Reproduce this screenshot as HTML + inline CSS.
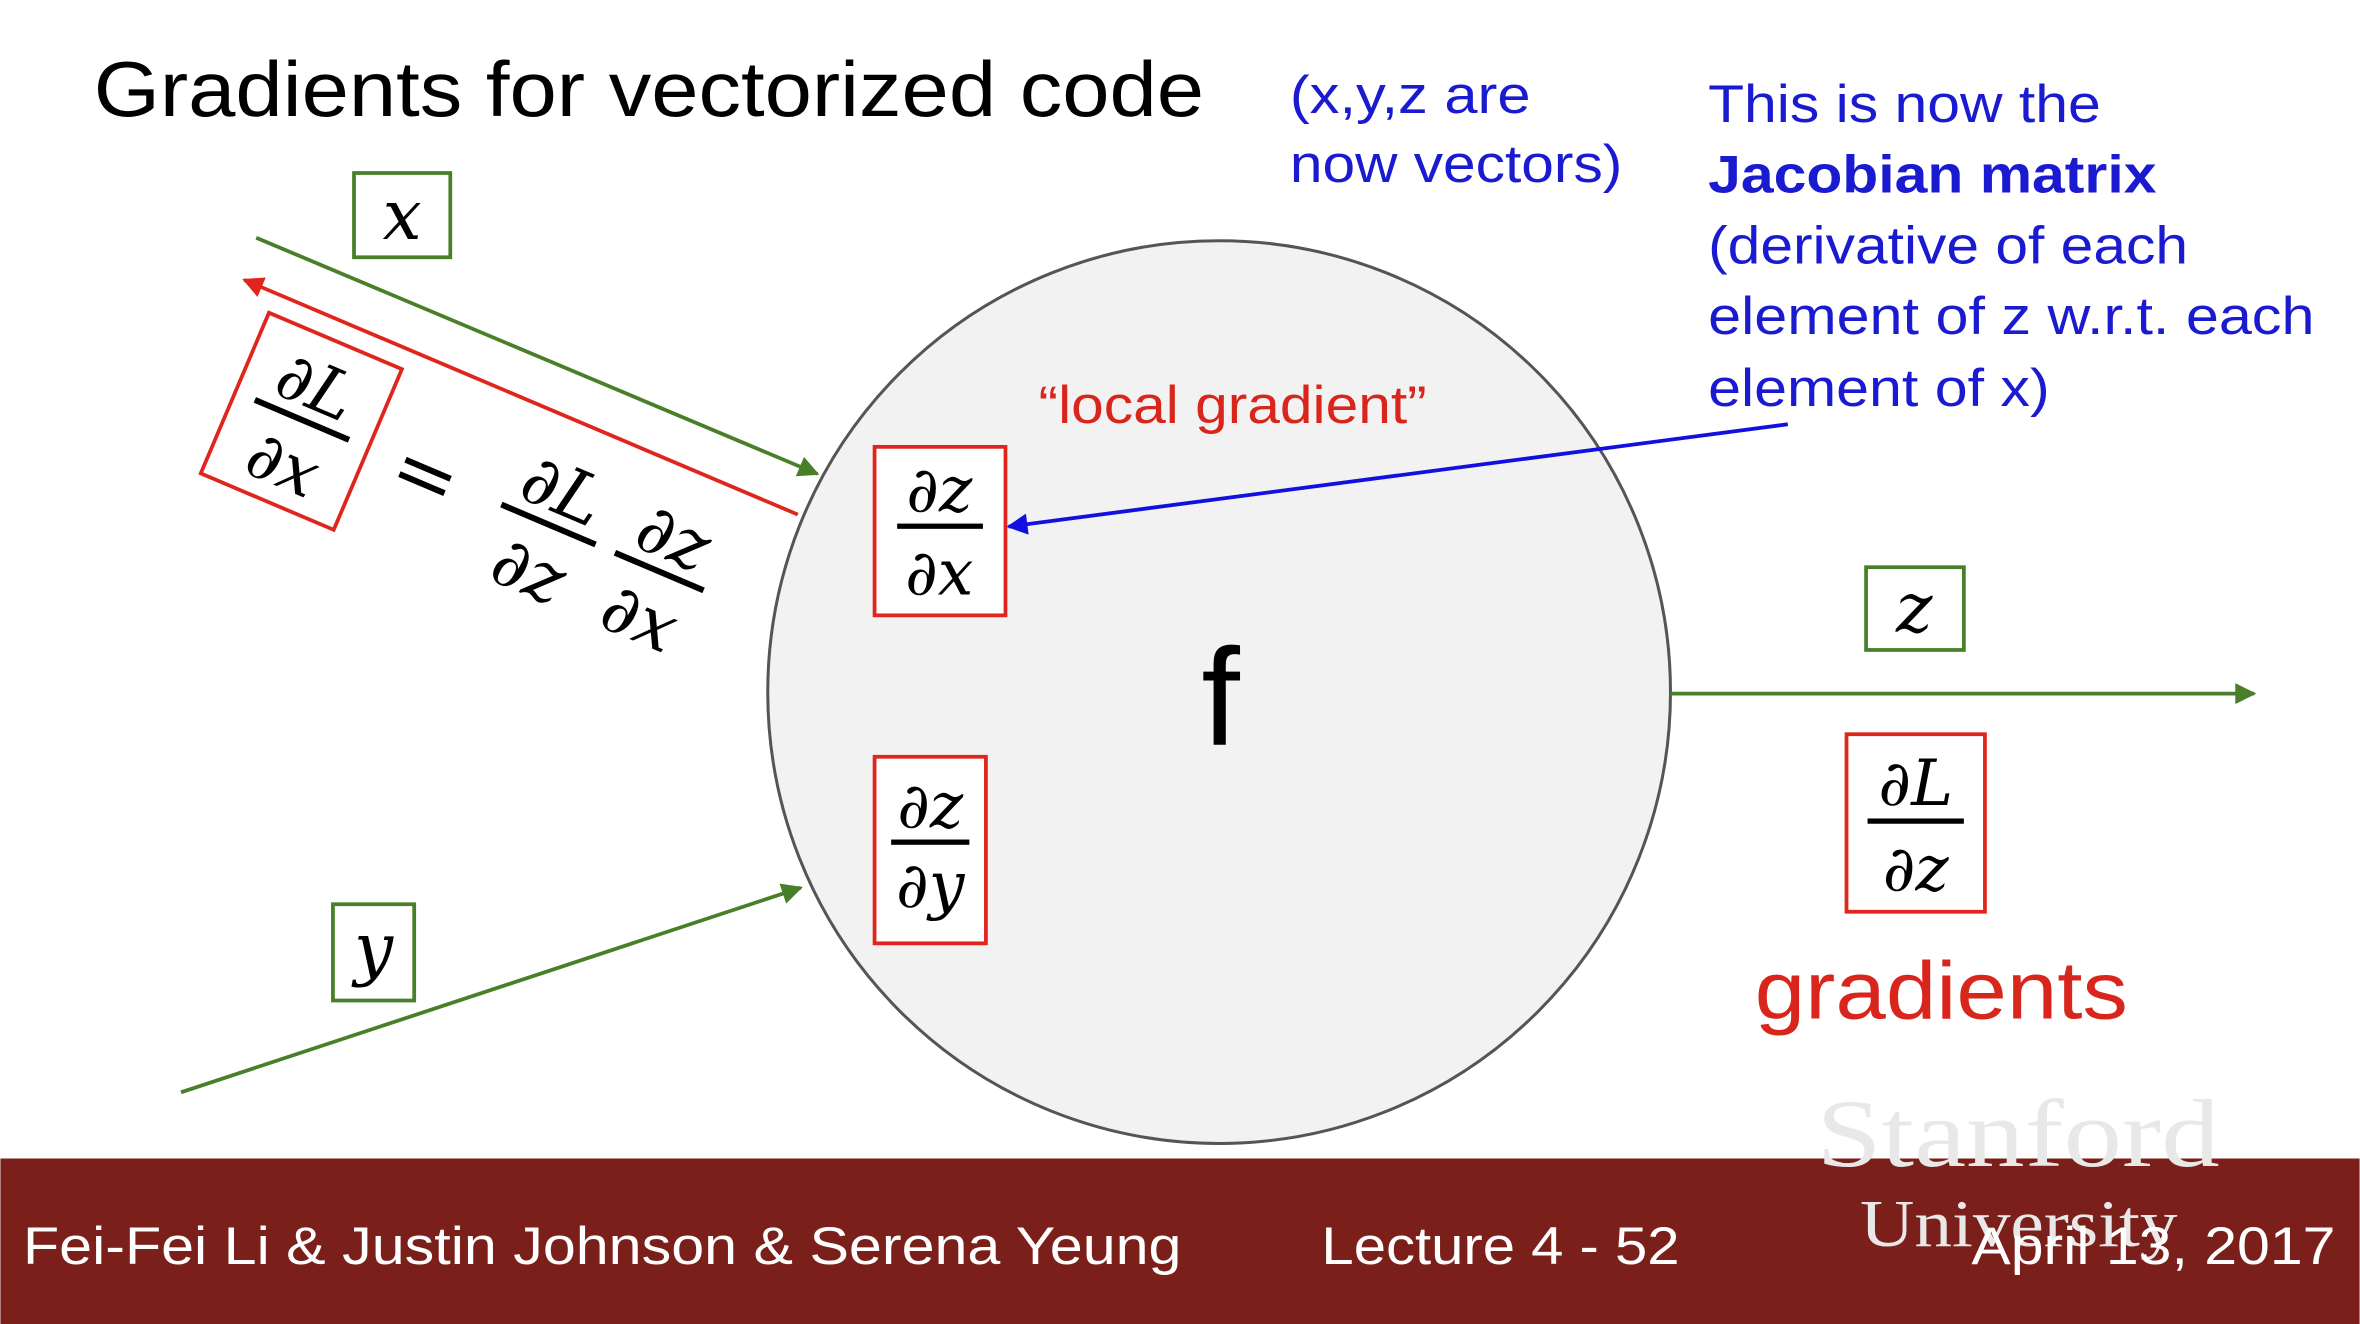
<!DOCTYPE html>
<html><head><meta charset="utf-8"><style>html,body{margin:0;padding:0;background:#fff}svg{display:block}</style></head>
<body>
<svg width="2360" height="1324" viewBox="0 0 1568 880" xmlns="http://www.w3.org/2000/svg">
<defs>
<marker id="agg" viewBox="0 0 10 10" refX="9" refY="5" markerWidth="24" markerHeight="14" orient="auto" markerUnits="userSpaceOnUse"><path d="M0,0 L10,5 L0,10z" fill="#4a7f2a"/></marker>
<marker id="ar" viewBox="0 0 10 10" refX="9" refY="5" markerWidth="24" markerHeight="14" orient="auto" markerUnits="userSpaceOnUse"><path d="M0,0 L10,5 L0,10z" fill="#e0261c"/></marker>
<marker id="ab" viewBox="0 0 10 10" refX="9" refY="5" markerWidth="22" markerHeight="14" orient="auto" markerUnits="userSpaceOnUse"><path d="M0,0 L10,5 L0,10z" fill="#1010e0"/></marker>
</defs>
<rect width="1568" height="880" fill="#fff"/>
<g font-family="Liberation Sans, sans-serif" lengthAdjust="spacingAndGlyphs">
<text x="62" y="77" font-size="52" fill="#000" textLength="738" lengthAdjust="spacingAndGlyphs">Gradients for vectorized code</text>
<text x="857" y="75" font-size="35" fill="#1a1ad0" textLength="160" lengthAdjust="spacingAndGlyphs">(x,y,z are</text>
<text x="857" y="121" font-size="35" fill="#1a1ad0" textLength="221" lengthAdjust="spacingAndGlyphs">now vectors)</text>
<g font-size="35" fill="#1a1ad0">
<text x="1135" y="81" textLength="261" lengthAdjust="spacingAndGlyphs">This is now the</text>
<text x="1135" y="128" font-weight="bold" textLength="298" lengthAdjust="spacingAndGlyphs">Jacobian matrix</text>
<text x="1135" y="175" textLength="319" lengthAdjust="spacingAndGlyphs">(derivative of each</text>
<text x="1135" y="222" textLength="403" lengthAdjust="spacingAndGlyphs">element of z w.r.t. each</text>
<text x="1135" y="270" textLength="227" lengthAdjust="spacingAndGlyphs">element of x)</text>
</g>
</g>
<circle cx="810" cy="460" r="300" fill="#f2f2f2" stroke="#555" stroke-width="2"/>
<line x1="170" y1="158" x2="543" y2="315" stroke="#4a7f2a" stroke-width="2.5" marker-end="url(#agg)"/>
<line x1="530" y1="342" x2="162" y2="186" stroke="#e0261c" stroke-width="2.5" marker-end="url(#ar)"/>
<line x1="120" y1="726" x2="532" y2="590" stroke="#4a7f2a" stroke-width="2.5" marker-end="url(#agg)"/>
<line x1="1110" y1="461" x2="1498" y2="461" stroke="#4a7f2a" stroke-width="2.5" marker-end="url(#agg)"/>
<line x1="1188" y1="282" x2="670" y2="350" stroke="#1010e0" stroke-width="2.5" marker-end="url(#ab)"/>
<g font-family="DejaVu Serif, Liberation Serif, serif" font-style="italic" fill="#000">
<rect x="235" y="115" width="64" height="56" fill="#fff" stroke="#4a7f2a" stroke-width="2.5"/>
<text x="267" y="159" font-size="46" text-anchor="middle">x</text>
<rect x="221" y="601" width="54" height="64" fill="#fff" stroke="#4a7f2a" stroke-width="2.5"/>
<text x="248" y="646" font-size="46" text-anchor="middle">y</text>
<rect x="1240" y="377" width="65" height="55" fill="#fff" stroke="#4a7f2a" stroke-width="2.5"/>
<text x="1272" y="420" font-size="46" text-anchor="middle">z</text>
<rect x="581" y="297" width="87" height="112" fill="#fff" stroke="#e0261c" stroke-width="2.5"/>
<text x="624" y="340" font-size="42" text-anchor="middle">∂z</text>
<rect x="596" y="348" width="57" height="3.5" fill="#000"/>
<text x="624" y="395" font-size="42" text-anchor="middle">∂x</text>
<rect x="581" y="503" width="74" height="124" fill="#fff" stroke="#e0261c" stroke-width="2.5"/>
<text x="618" y="550" font-size="42" text-anchor="middle">∂z</text>
<rect x="592" y="558" width="52" height="3.5" fill="#000"/>
<text x="618" y="603" font-size="42" text-anchor="middle">∂y</text>
<rect x="1227" y="488" width="92" height="118" fill="#fff" stroke="#e0261c" stroke-width="2.5"/>
<text x="1273" y="535" font-size="42" text-anchor="middle">∂L</text>
<rect x="1241" y="544" width="64" height="3.5" fill="#000"/>
<text x="1273" y="592" font-size="42" text-anchor="middle">∂z</text>
<g transform="translate(200,280) rotate(23)">
<rect x="-48" y="-58" width="96" height="116" fill="#fff" stroke="#e0261c" stroke-width="2.5"/>
<text x="0" y="-10" font-size="44" text-anchor="middle">∂L</text>
<rect x="-34" y="-3" width="68" height="4" fill="#000"/>
<text x="0" y="46" font-size="44" text-anchor="middle">∂x</text>
<text x="90" y="18" font-size="52" text-anchor="middle" font-style="normal">=</text>
<text x="178" y="-10" font-size="46" text-anchor="middle">∂L</text>
<rect x="144" y="-3" width="68" height="4" fill="#000"/>
<text x="178" y="48" font-size="46" text-anchor="middle">∂z</text>
<text x="258" y="-10" font-size="46" text-anchor="middle">∂z</text>
<rect x="226" y="-3" width="64" height="4" fill="#000"/>
<text x="258" y="48" font-size="46" text-anchor="middle">∂x</text>
</g>
</g>
<g font-family="Liberation Sans, sans-serif">
<text x="690" y="281" font-size="35" fill="#d9261c" textLength="258" lengthAdjust="spacingAndGlyphs">“local gradient”</text>
<text x="811" y="495" font-size="92" text-anchor="middle" fill="#000">f</text>
<text x="1166" y="677" font-size="54" fill="#d9261c" textLength="248" lengthAdjust="spacingAndGlyphs">gradients</text>
</g>
<rect x="0" y="770" width="1568" height="110" fill="#7b1f1a"/>
<g font-family="Liberation Serif, serif" fill="#e8e8e8">
<text x="1207" y="775" font-size="64" textLength="268" lengthAdjust="spacingAndGlyphs">Stanford</text>
<text x="1236" y="828" font-size="44" textLength="211" lengthAdjust="spacingAndGlyphs">University</text>
</g>
<g font-family="Liberation Sans, sans-serif" font-size="35" fill="#fff">
<text x="15" y="840" textLength="770" lengthAdjust="spacingAndGlyphs">Fei-Fei Li &amp; Justin Johnson &amp; Serena Yeung</text>
<text x="878" y="840" textLength="238" lengthAdjust="spacingAndGlyphs">Lecture 4 - 52</text>
<text x="1310" y="840" textLength="242" lengthAdjust="spacingAndGlyphs">April 13, 2017</text>
</g>
</svg>
</body></html>
